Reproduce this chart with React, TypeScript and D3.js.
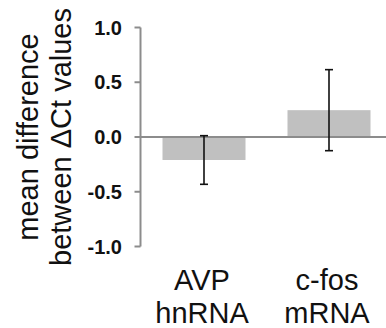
import React from "react";
import * as d3 from "d3";

const categories = ["AVP\nhnRNA", "c-fos\nmRNA"];
const means = [-0.21, 0.245];
const errors = [0.222, 0.37];
const yTicks = [-1.0, -0.5, 0.0, 0.5, 1.0];
const yLabelLines = ["mean difference", "between ΔCt values"];

const W = 386;
const H = 328;

export default function App() {
  const y = d3.scaleLinear().domain([-1, 1]).range([246.5, 27.5]);
  const x = d3
    .scaleBand<string>()
    .domain(categories)
    .range([141.5, 391.5])
    .paddingInner(0.336)
    .paddingOuter(0.168);
  const axisX = 140.5;
  const grey = "#8c8c8c";
  const font = "'Liberation Sans', Arial, sans-serif";

  return (
    <svg
      width={W}
      height={H}
      style={{ position: "absolute", left: 0, top: 0, background: "#fff" }}
      fontFamily={font}
    >
      {/* bars */}
      {categories.map((c, i) => {
        const v = means[i];
        const y0 = y(0);
        const yv = y(v);
        return (
          <rect
            key={c}
            x={x(c)!}
            y={Math.min(y0, yv)}
            width={x.bandwidth()}
            height={Math.abs(yv - y0)}
            fill="#c0c0c0"
          />
        );
      })}
      {/* zero line */}
      <line x1={axisX} x2={W} y1={y(0)} y2={y(0)} stroke={grey} strokeWidth={2} />
      {/* y axis */}
      <line x1={axisX} x2={axisX} y1={y(1)} y2={y(-1)} stroke={grey} strokeWidth={2} />
      {yTicks.map((t) => (
        <g key={t}>
          <line x1={axisX - 6} x2={axisX} y1={y(t)} y2={y(t)} stroke={grey} strokeWidth={2} />
          <text
            x={122}
            y={y(t)}
            dy="0.36em"
            textAnchor="end"
            fontSize={20}
            fontWeight="bold"
            fill="#111"
          >
            {t.toFixed(1)}
          </text>
        </g>
      ))}
      {/* error bars */}
      {categories.map((c, i) => {
        const cx = x(c)! + x.bandwidth() / 2;
        const top = y(means[i] + errors[i]);
        const bot = y(means[i] - errors[i]);
        return (
          <g key={c} stroke="#111" strokeWidth={1.6}>
            <line x1={cx} x2={cx} y1={top} y2={bot} />
            <line x1={cx - 4} x2={cx + 4} y1={top} y2={top} />
            <line x1={cx - 4} x2={cx + 4} y1={bot} y2={bot} />
          </g>
        );
      })}
      {/* category labels */}
      {categories.map((c) => {
        const cx = x(c)! + x.bandwidth() / 2 - 2;
        const lines = c.split("\n");
        return (
          <text key={c} textAnchor="middle" fontSize={29} fill="#111">
            {lines.map((l, j) => (
              <tspan key={j} x={cx} y={290 + j * 33}>
                {l}
              </tspan>
            ))}
          </text>
        );
      })}
      {/* y axis label */}
      {yLabelLines.map((l, j) => (
        <text
          key={l}
          transform={`translate(${38 + j * 33},${y(0)}) rotate(-90)`}
          textAnchor="middle"
          fontSize={29}
          fill="#111"
        >
          {l}
        </text>
      ))}
    </svg>
  );
}
